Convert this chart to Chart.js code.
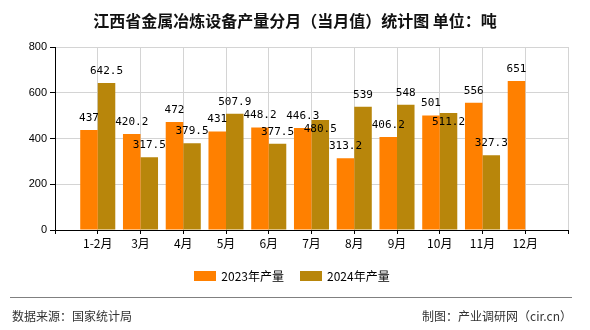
<!DOCTYPE html>
<html>
<head>
<meta charset="utf-8">
<script src="https://cdn.jsdelivr.net/npm/chart.js@4"></script>
<style>
  body { margin: 0; background: #fff; overflow: hidden; }
  #wrap { position: relative; width: 590px; height: 330px; font-family: "Noto Sans CJK SC", sans-serif; }
  #chart { position: absolute; left: 0; top: 0; }
  .title { position: absolute; left: 0; top: 9px; width: 590px; text-align: center; font-size: 16px; font-weight: bold; color: #111; line-height: 22px; }
  .legend { position: absolute; left: 0; top: 269px; width: 584px; display: flex; justify-content: center; gap: 16px; font-size: 12px; color: #000; line-height: 14px; }
  .legend span.item { display: flex; align-items: center; gap: 5px; }
  .legend i { display: inline-block; width: 22px; height: 10px; }
  .rule { position: absolute; left: 10px; top: 297px; width: 562px; height: 1px; background: #808080; }
  .foot { position: absolute; top: 308px; font-size: 12px; color: #333; line-height: 16px; }
</style>
</head>
<body>
<div id="wrap">
  <canvas id="chart" width="590" height="330"></canvas>
  <div class="title">江西省金属冶炼设备产量分月（当月值）统计图 单位：吨</div>
  <div class="legend" id="legend"></div>
  <div class="rule"></div>
  <div class="foot" style="left:12px">数据来源：国家统计局</div>
  <div class="foot" style="right:18px">制图：产业调研网（cir.cn）</div>
</div>
<script>
// --- DATA ---
const categories = ['1-2月', '3月', '4月', '5月', '6月', '7月', '8月', '9月', '10月', '11月', '12月'];
const output2023 = [437, 420.2, 472, 431, 448.2, 446.3, 313.2, 406.2, 501, 556, 651];
const output2024 = [642.5, 317.5, 379.5, 507.9, 377.5, 480.5, 539, 548, 511.2, 327.3, null];
const seriesNames = ['2023年产量', '2024年产量'];
const yTicks = [0, 200, 400, 600, 800];

const colors = ['#FF8000', '#B8860B'];

// one empty slot on each side, like the original axis
const pad = arr => [null, ...arr, null];
const labels = ['', ...categories, ''];

// value labels above bars, dropped inside the bar when they bump into a neighbour
const valueLabels = {
    id: 'valueLabels',
    afterDatasetsDraw(chart) {
        const ctx = chart.ctx;
        ctx.save();
        ctx.font = '11px "DejaVu Sans Mono", monospace';
        ctx.fillStyle = '#000';
        ctx.textAlign = 'center';
        ctx.textBaseline = 'alphabetic';
        const placed = [];
        const h = 8;
        for (let i = 0; i < labels.length; i++) {
            chart.data.datasets.forEach((ds, d) => {
                const v = ds.data[i];
                if (v == null) return;
                const el = chart.getDatasetMeta(d).data[i];
                const text = String(v);
                const w = ctx.measureText(text).width;
                let bottom = el.y - 9;
                let top = bottom - h;
                const left = el.x - w / 2, right = el.x + w / 2;
                const hit = placed.some(p => left < p.right && right > p.left && top < p.bottom && bottom > p.top);
                if (hit) {
                    top = el.y + 4;
                    bottom = top + h;
                }
                placed.push({ left, right, top, bottom });
                ctx.fillText(text, el.x, bottom);
            });
        }
        ctx.restore();
    }
};

const chart = new Chart(document.getElementById('chart'), {
    type: 'bar',
    data: {
        labels: labels,
        datasets: [
            { label: seriesNames[0], data: pad(output2023), backgroundColor: colors[0] },
            { label: seriesNames[1], data: pad(output2024), backgroundColor: colors[1] }
        ]
    },
    options: {
        responsive: false,
        animation: false,
        devicePixelRatio: 1,
        layout: { padding: { top: 47, right: 22, bottom: 0, left: 0 } },
        datasets: { bar: { categoryPercentage: 0.82, barPercentage: 1 } },
        plugins: { legend: { display: false }, title: { display: false }, tooltip: { enabled: false } },
        scales: {
            x: {
                offset: false,
                grid: { offset: false, color: '#d4d4d4', tickColor: '#000', tickLength: 4 },
                border: { color: '#000', width: 1 },
                ticks: { color: '#000', padding: 2, maxRotation: 0, autoSkip: false,
                         font: { family: '"Noto Sans CJK SC"', size: 12 } },
                afterFit: s => { s.height = 100; }
            },
            y: {
                min: 0, max: 800,
                afterBuildTicks: s => { s.ticks = yTicks.map(v => ({ value: v })); },
                grid: { color: '#d4d4d4', tickColor: '#000', tickLength: 5 },
                border: { color: '#000', width: 1 },
                ticks: { color: '#000', padding: 3, font: { family: '"Liberation Sans"', size: 11 } },
                afterFit: s => { s.width = 55; }
            }
        }
    },
    plugins: [valueLabels]
});

// legend built from the datasets
const legendEl = document.getElementById('legend');
chart.data.datasets.forEach(ds => {
    const item = document.createElement('span');
    item.className = 'item';
    item.innerHTML = `<i style="background:${ds.backgroundColor}"></i>${ds.label}`;
    legendEl.appendChild(item);
});
</script>
</body>
</html>
